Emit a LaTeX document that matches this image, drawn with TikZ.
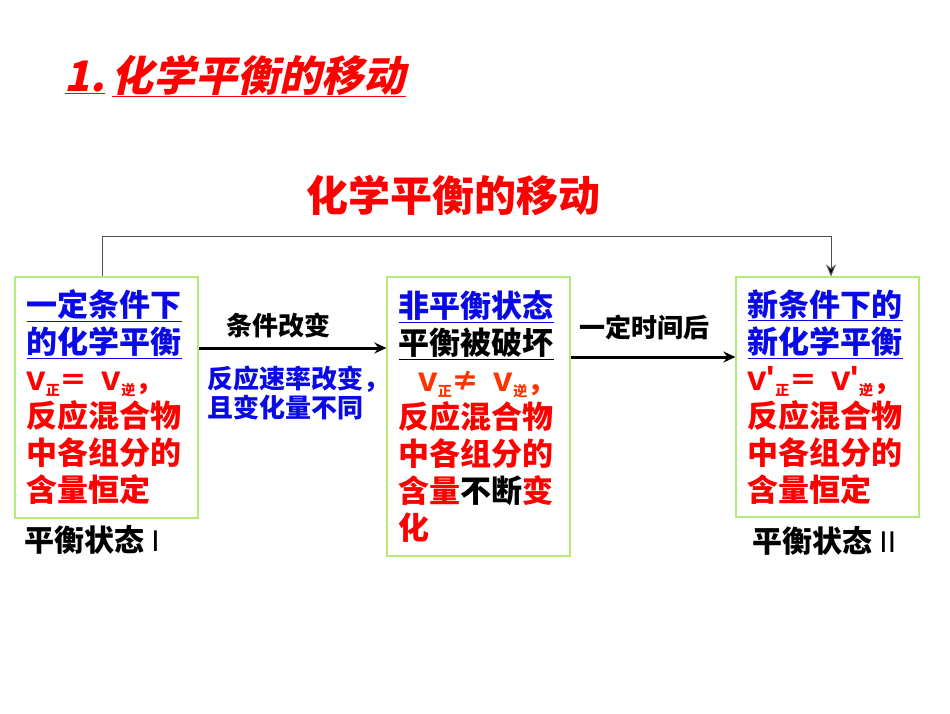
\documentclass[tikz,border=0pt]{standalone}
\usepackage{fontspec}
\setmainfont{Noto Sans CJK SC}
\newfontfamily\titlefont{Noto Sans CJK SC}[FakeSlant=0.22]
\newfontfamily\latinfont{Liberation Sans}
\usepackage{xcolor}
\usetikzlibrary{arrows.meta, calc, positioning}

\definecolor{eqred}{RGB}{255,0,0}
\definecolor{eqorange}{RGB}{255,51,0}
\definecolor{eqblue}{RGB}{10,10,230}
\definecolor{eqgreen}{RGB}{180,235,120}
\definecolor{eqgray}{RGB}{80,80,80}

% v with a small subscript under it
\newcommand{\vsub}[1]{\raisebox{-5pt}{\fontsize{14}{14}\selectfont #1}}
\newcommand{\vel}{{\latinfont\bfseries\fontsize{35}{37}\selectfont v}}
\newcommand{\vprime}{{\latinfont\bfseries\fontsize{35}{37}\selectfont v'}}

\begin{document}
\begin{tikzpicture}[
    x=1pt, y=-1pt,
    statebox/.style={draw=eqgreen, line width=1.2pt, minimum width=183pt,
                     inner sep=0pt, text width=160pt, align=left,
                     font=\bfseries\fontsize{31}{37}\selectfont, text=eqred},
    note/.style={font=\bfseries\fontsize{26}{29}\selectfont, align=left},
    flow/.style={-{Stealth[length=12pt, width=11pt, inset=4pt]}, line width=3pt},
    link/.style={-{Stealth[length=12pt, width=10pt, inset=4pt, fill=black]}, draw=eqgray, line width=1pt},
]
\useasboundingbox (0,0) rectangle (950,713);

\node[anchor=west, text=eqred, font=\titlefont\bfseries\fontsize{42}{44}\selectfont]
    (title) at (61,76) {\underline{1.}\,\underline{化学平衡的移动}};
\node[text=eqred, font=\bfseries\fontsize{42}{44}\selectfont]
    (heading) at (453,195) {化学平衡的移动};

\node[statebox, minimum height=241pt] (state1) at (106.5,397.5) {%
    \textcolor{eqblue}{\underline{一定条件下}}\\
    \textcolor{eqblue}{\underline{的化学平衡}}\\
    {\fontsize{28}{37}\selectfont \vel\vsub{正}＝\enspace \vel\vsub{逆}，}\\
    反应混合物\\中各组分的\\含量恒定};
\node[statebox, minimum height=279pt] (state2) at (478.5,416.5) {%
    \textcolor{eqblue}{\underline{非平衡状态}}\\
    \textcolor{black}{\underline{平衡被破坏}}\\
    \hspace*{20pt}{\color{eqorange}\fontsize{28}{37}\selectfont \vel\vsub{正}≠\enspace \vel\vsub{逆}，}\\
    反应混合物\\中各组分的\\含量\textcolor{black}{不断}变\\化};
\node[statebox, minimum height=240pt] (state3) at (827.5,397) {%
    \textcolor{eqblue}{\underline{新条件下的}}\\
    \textcolor{eqblue}{\underline{新化学平衡}}\\
    {\fontsize{28}{37}\selectfont \vprime\vsub{正}＝\enspace \vprime\vsub{逆}，}\\
    反应混合物\\中各组分的\\含量恒定};

\node[anchor=west, font=\bfseries\fontsize{30}{32}\selectfont] (label1) at (21,540) {平衡状态 {\latinfont\mdseries I}};
\node[anchor=west, font=\bfseries\fontsize{30}{32}\selectfont] (label2) at (749,541) {平衡状态 {\latinfont\mdseries II}};

\node[note] (change) at (278,325) {条件改变};
\node[note, text=eqblue, anchor=west] (rate) at (204,393) {反应速率改变，\\且变化量不同};
\node[note] (later) at (644,327) {一定时间后};

\draw[flow] ([yshift=49.5pt]state1.east) -- ([yshift=68.5pt]state2.west);
\draw[flow] ([yshift=59.5pt]state2.east) -- ([yshift=40pt]state3.west);
\draw[link] ([xshift=-4.5pt]state1.north) -- ++(0,-40) -| ([xshift=3.5pt]state3.north);
\end{tikzpicture}
\end{document}
